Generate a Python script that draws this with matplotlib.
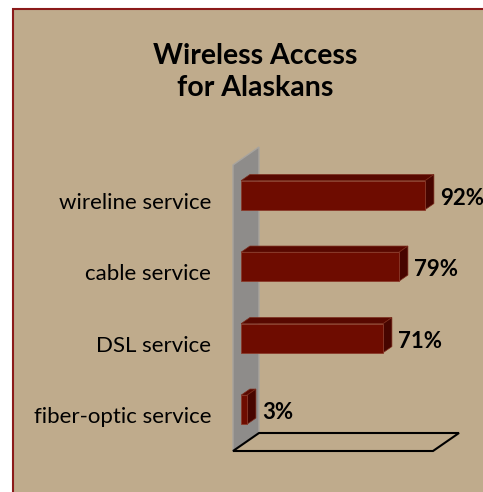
import matplotlib
matplotlib.use('Agg')
import matplotlib.pyplot as plt
from matplotlib.patches import Polygon, Rectangle

# survey results, bottom to top
categories = ['fiber-optic service', 'DSL service', 'cable service', 'wireline service']
values = [3, 71, 79, 92]
value_labels = ['3%', '71%', '79%', '92%']
title = 'Wireless Access\nfor Alaskans'

W, H, DPI = 483, 492, 100
panel_color = '#bfab8c'
bar_front = '#6e0c00'
bar_top = '#580800'
bar_side = '#470500'
font = 'Lato'

fig = plt.figure(figsize=(W / DPI, H / DPI), dpi=DPI, facecolor='white')

# tan panel with dark red border, running off the right and bottom edges
bg = fig.add_axes([0, 0, 1, 1])
bg.set_xlim(0, W)
bg.set_ylim(H, 0)
bg.axis('off')
bg.add_patch(Rectangle((13, 9), 500, 520, facecolor=panel_color,
                       edgecolor='#8b1a1a', linewidth=1.5))
bg.text(255, 72, title, ha='center', va='center', fontsize=20.5,
        fontweight='bold', family=font, linespacing=1.3)

# front plane of the plot area (pixels)
px_left, px_right = 233, 433
px_top, px_bottom = 165, 451
ax = fig.add_axes([px_left / W, 1 - px_bottom / H,
                   (px_right - px_left) / W, (px_bottom - px_top) / H])
ax.set_xlim(0, 100)
ax.set_ylim(-0.5, len(categories) - 0.5)
ax.axis('off')

# depth vector of the box, converted to data units
ux = (px_right - px_left) / 100.0
uy = (px_bottom - px_top) / len(categories)
dx, dy = 26 / ux, 18 / uy
ytop = len(categories) - 0.5

# side wall
ax.add_patch(Polygon([(0, -0.5), (dx, -0.5 + dy), (dx, ytop + dy), (0, ytop)],
                     closed=True, facecolor='#8e8c8a', edgecolor='#a8a49e',
                     linewidth=1, clip_on=False, zorder=1))
# floor
ax.add_patch(Polygon([(0, -0.5), (100, -0.5), (100 + dx, -0.5 + dy), (dx, -0.5 + dy)],
                     closed=True, facecolor='none', edgecolor='black',
                     linewidth=1.5, clip_on=False, zorder=1))

# bars sit between these depth fractions
f0, f1 = 0.31, 0.65
ox0, oy0 = dx * f0, dy * f0
ox1, oy1 = dx * f1, dy * f1
ddx, ddy = ox1 - ox0, oy1 - oy0
bh = 29 / uy
ypos = list(range(len(categories)))

ax.barh([y + oy0 for y in ypos], values, height=bh, left=ox0,
        color=bar_front, edgecolor='#8a3a2a', linewidth=0.6, zorder=3)
for y, v in zip(ypos, values):
    yt = y + oy0 + bh / 2
    yb = y + oy0 - bh / 2
    x0, x1 = ox0, ox0 + v
    ax.add_patch(Polygon([(x0, yt), (x1, yt), (x1 + ddx, yt + ddy), (x0 + ddx, yt + ddy)],
                         closed=True, facecolor=bar_top, edgecolor='#7a2a1a',
                         linewidth=0.5, clip_on=False, zorder=2))
    ax.add_patch(Polygon([(x1, yb), (x1, yt), (x1 + ddx, yt + ddy), (x1 + ddx, yb + ddy)],
                         closed=True, facecolor=bar_side, edgecolor='#7a2a1a',
                         linewidth=0.5, clip_on=False, zorder=2))

# value labels beside each bar
for y, v, lab in zip(ypos, values, value_labels):
    ax.text(ox1 + v + 3, y + oy0 - 0.04, lab, ha='left', va='center',
            fontsize=16, fontweight='bold', family=font, clip_on=False)

# category labels
for y, cat in zip(ypos, categories):
    ax.text(-11, y - 0.03, cat, ha='right', va='center', fontsize=16,
            family=font, clip_on=False)

fig.savefig('out.png', dpi=DPI, facecolor='white')
